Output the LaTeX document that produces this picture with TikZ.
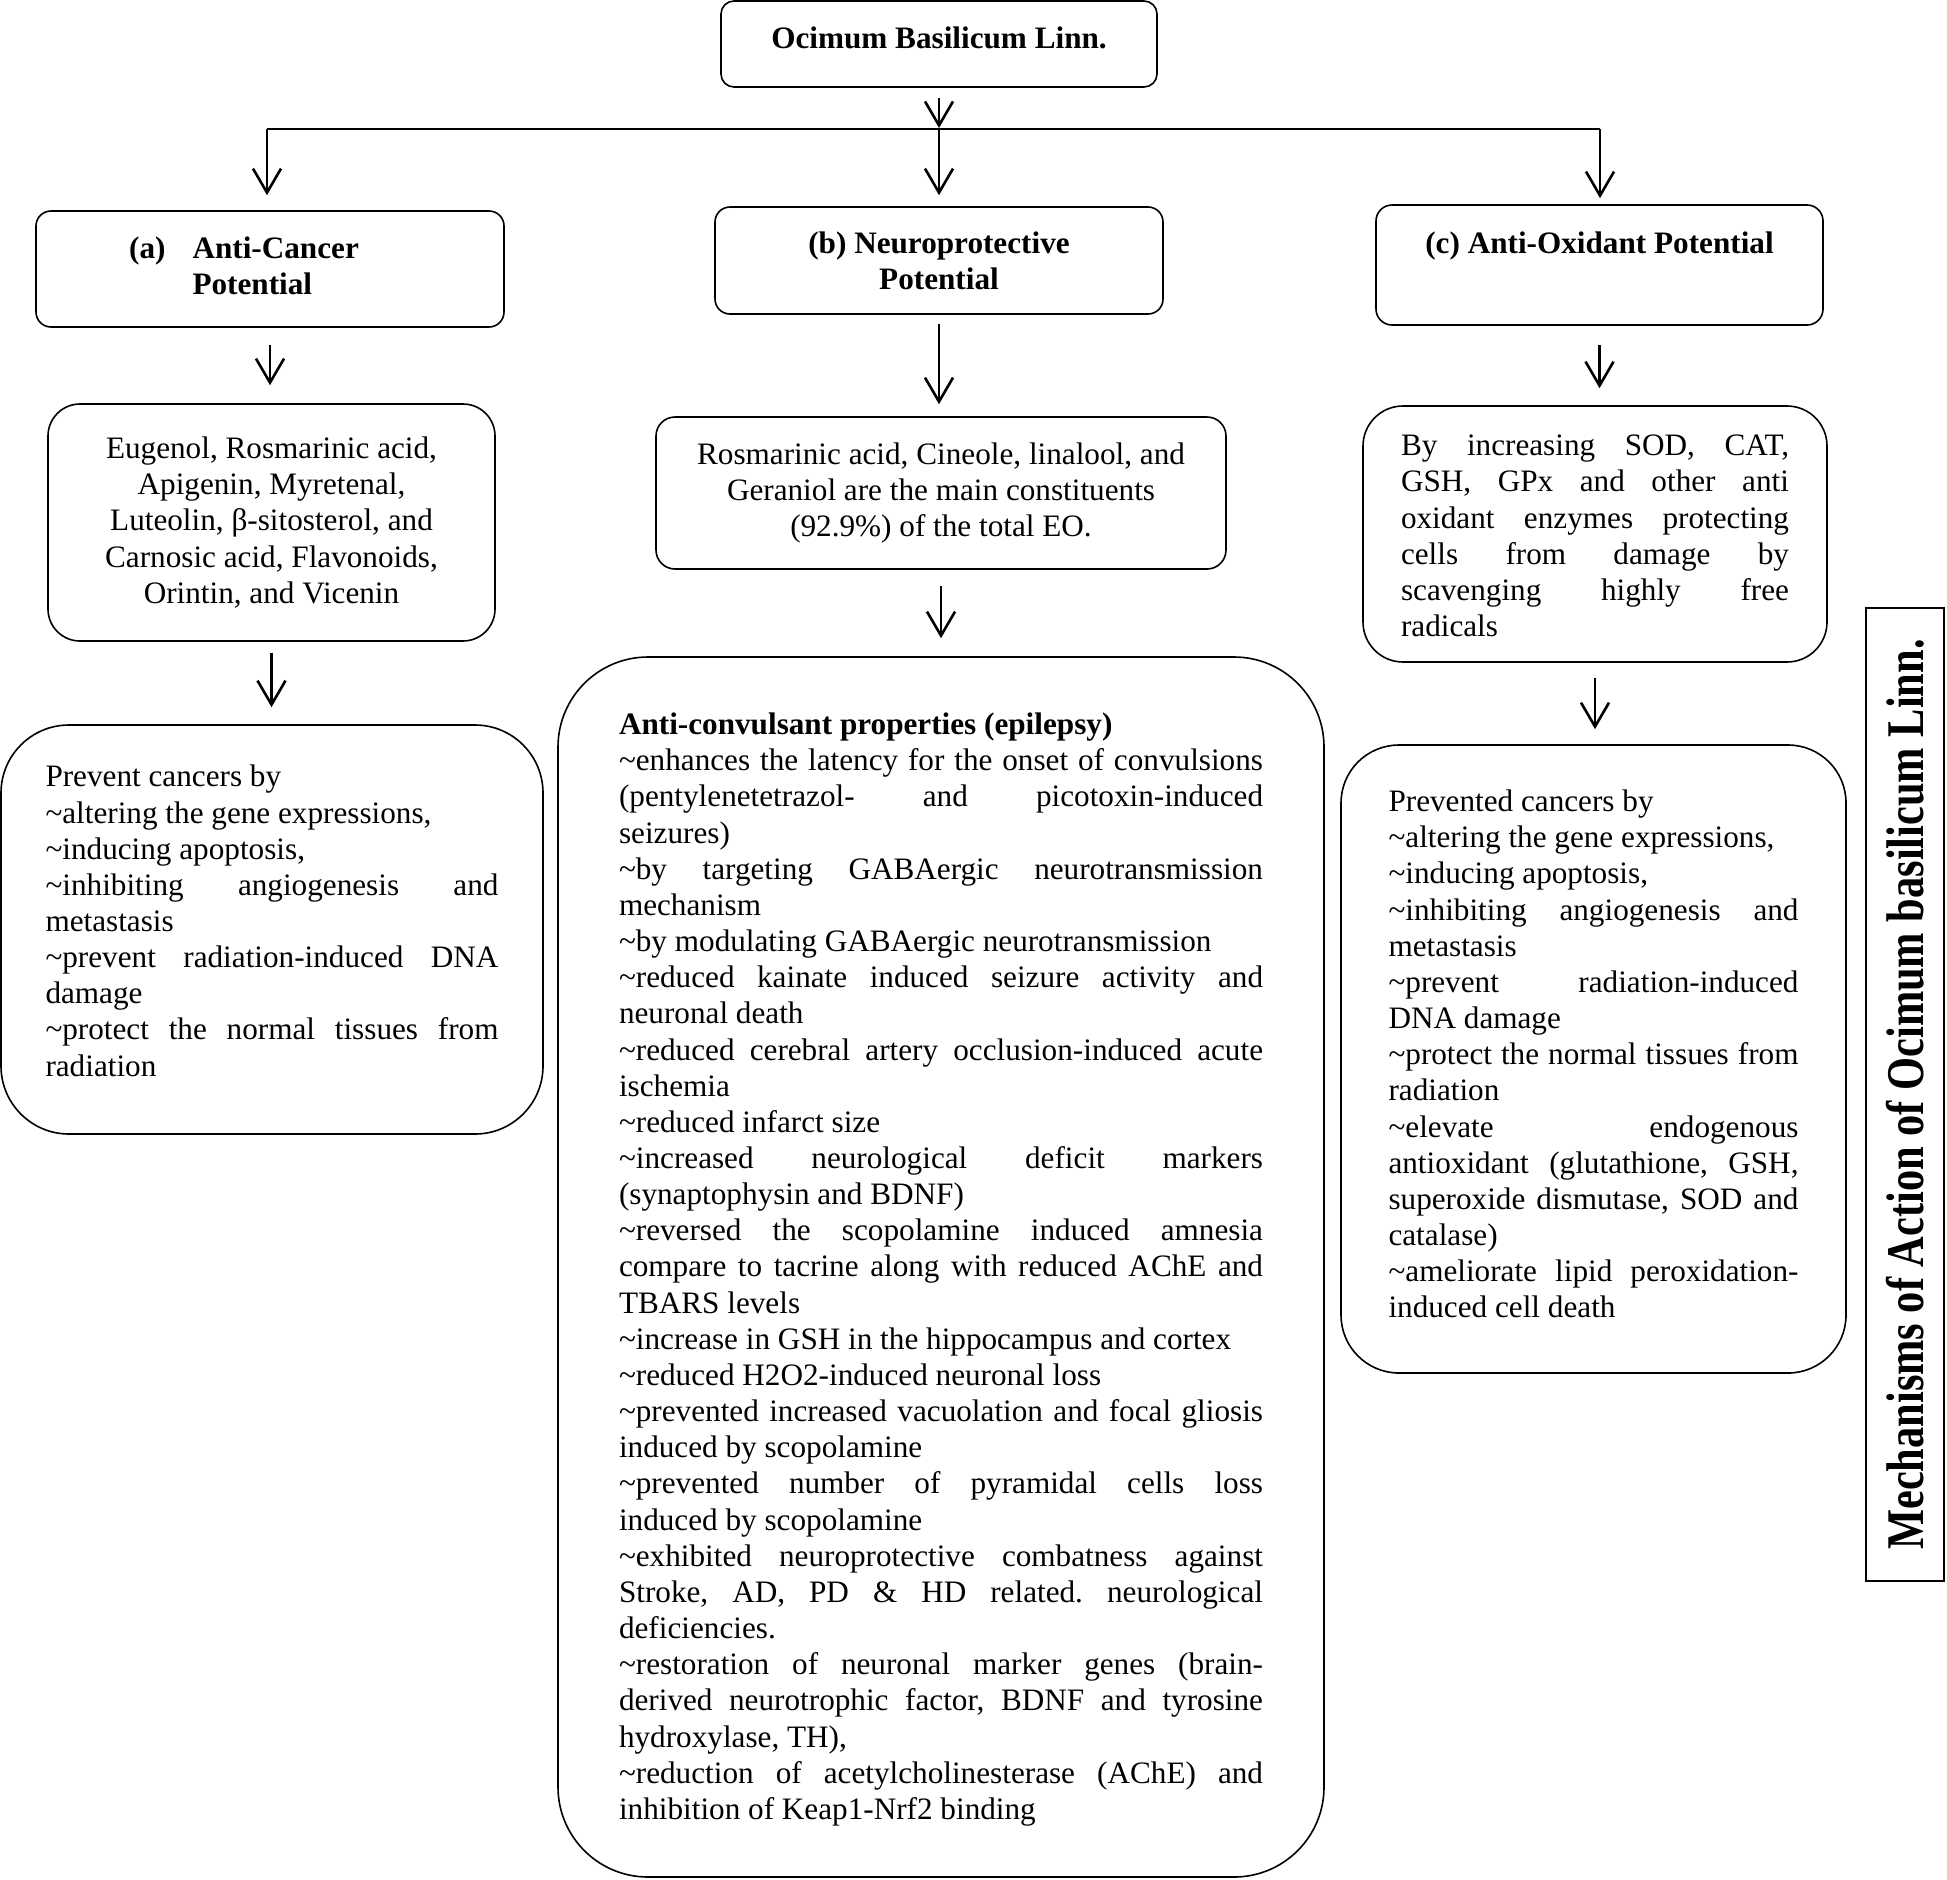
\documentclass[tikz,border=0pt]{standalone}
\usepackage{fontspec}
\setmainfont{Liberation Serif}
\newfontfamily\labelfont[FakeStretch=0.8]{Liberation Serif}
\usetikzlibrary{arrows.meta}
\frenchspacing
\newcommand\tildech{\textasciitilde}
\newcommand\jline[1]{\makebox[\linewidth][s]{#1}}
\newcommand\nline[1]{\makebox[\linewidth][l]{#1}}
\begin{document}
\begin{tikzpicture}[x=0.5pt,y=-0.5pt,
  every node/.style={font=\fontsize{15.6pt}{18.08pt}\selectfont},
  box/.style={draw, line width=0.8pt, inner sep=0pt, align=center},
  arr/.style={line width=1.3pt, -{Straight Barb[length=12pt,width=14pt]}},
  bus/.style={line width=1.3pt}
]
\useasboundingbox (0,0) rectangle (1947,1879);

% top
\node[box, rounded corners=6.5pt, minimum width=218pt, minimum height=43pt] (top) at (939,44)
  {\raisebox{3pt}[\height][\depth]{\bfseries Ocimum Basilicum Linn.}};

% level 1
\node[box, rounded corners=7.5pt, minimum width=234pt, minimum height=58pt] (A) at (270,269)
  {\bfseries\begin{tabular}{@{}l@{\hspace{13.5pt}}l@{}}(a)&Anti-Cancer\\&Potential\end{tabular}\hspace{26pt}};
\node[box, rounded corners=7.5pt, minimum width=224pt, minimum height=53.5pt] (B) at (939,260.5)
  {\bfseries (b) Neuroprotective\\ \bfseries Potential};
\node[box, rounded corners=8pt, minimum width=223.5pt, minimum height=60pt] (C) at (1599.5,265)
  {\raisebox{9.6pt}[\height][\depth]{\bfseries (c) Anti-Oxidant Potential}};

% level 2
\node[box, rounded corners=16pt, minimum width=223.5pt, minimum height=118.5pt] (A2) at (271.5,522.5)
  {Eugenol, Rosmarinic acid,\\ Apigenin, Myretenal,\\ Luteolin, β-sitosterol, and\\ Carnosic acid, Flavonoids,\\ Orintin, and Vicenin};
\node[box, rounded corners=9.5pt, minimum width=285pt, minimum height=76pt] (B2) at (941,493)
  {Rosmarinic acid, Cineole, linalool, and\\ Geraniol are the main constituents\\ (92.9\%) of the total EO.};
\node[box, rounded corners=20pt, minimum width=232pt, minimum height=128pt] (C2) at (1595,534)
  {\begin{minipage}{194pt}
  \vspace{2pt}
  \jline{By increasing SOD, CAT,}\\
  \jline{GSH, GPx and other anti}\\
  \jline{oxidant enzymes protecting}\\
  \jline{cells from damage by}\\
  \jline{scavenging highly free}\\
  \nline{radicals}
  \end{minipage}};

% level 3
\node[box, rounded corners=34pt, minimum width=271pt, minimum height=204.5pt] (A3) at (272,929.5)
  {\begin{minipage}{226.5pt}
  \nline{Prevent cancers by}\\
  \nline{\tildech altering the gene expressions,}\\
  \nline{\tildech inducing apoptosis,}\\
  \jline{\tildech inhibiting angiogenesis and}\\
  \nline{metastasis}\\
  \jline{\tildech prevent radiation-induced DNA}\\
  \nline{damage}\\
  \jline{\tildech protect the normal tissues from}\\
  \nline{radiation}\par\vspace{8.7pt}
  \end{minipage}};
\node[box, rounded corners=45pt, minimum width=383pt, minimum height=610pt] (B3) at (941,1267)
  {\begin{minipage}{322pt}
  \vspace{2.5pt}
  \nline{\bfseries Anti-convulsant properties (epilepsy)}\\
  \jline{\tildech enhances the latency for the onset of convulsions}\\
  \jline{(pentylenetetrazol- and picotoxin-induced}\\
  \nline{seizures)}\\
  \jline{\tildech by targeting GABAergic neurotransmission}\\
  \nline{mechanism}\\
  \nline{\tildech by modulating GABAergic neurotransmission}\\
  \jline{\tildech reduced kainate induced seizure activity and}\\
  \nline{neuronal death}\\
  \jline{\tildech reduced cerebral artery occlusion-induced acute}\\
  \nline{ischemia}\\
  \nline{\tildech reduced infarct size}\\
  \jline{\tildech increased neurological deficit markers}\\
  \nline{(synaptophysin and BDNF)}\\
  \jline{\tildech reversed the scopolamine induced amnesia}\\
  \jline{compare to tacrine along with reduced AChE and}\\
  \nline{TBARS levels}\\
  \nline{\tildech increase in GSH in the hippocampus and cortex}\\
  \nline{\tildech reduced H2O2-induced neuronal loss}\\
  \jline{\tildech prevented increased vacuolation and focal gliosis}\\
  \nline{induced by scopolamine}\\
  \jline{\tildech prevented number of pyramidal cells loss}\\
  \nline{induced by scopolamine}\\
  \jline{\tildech exhibited neuroprotective combatness against}\\
  \jline{Stroke, AD, PD \& HD related. neurological}\\
  \nline{deficiencies.}\\
  \jline{\tildech restoration of neuronal marker genes (brain-}\\
  \jline{derived neurotrophic factor, BDNF and tyrosine}\\
  \nline{hydroxylase, TH),}\\
  \jline{\tildech reduction of acetylcholinesterase (AChE) and}\\
  \nline{inhibition of Keap1-Nrf2 binding}
  \end{minipage}};
\node[box, rounded corners=29pt, minimum width=252.5pt, minimum height=314pt] (C3) at (1593.5,1059)
  {\begin{minipage}{205pt}
  \nline{Prevented cancers by}\\
  \nline{\tildech altering the gene expressions,}\\
  \nline{\tildech inducing apoptosis,}\\
  \jline{\tildech inhibiting angiogenesis and}\\
  \nline{metastasis}\\
  \jline{\tildech prevent radiation-induced}\\
  \nline{DNA damage}\\
  \jline{\tildech protect the normal tissues from}\\
  \nline{radiation}\\
  \jline{\tildech elevate endogenous}\\
  \jline{antioxidant (glutathione, GSH,}\\
  \jline{superoxide dismutase, SOD and}\\
  \nline{catalase)}\\
  \jline{\tildech ameliorate lipid peroxidation-}\\
  \nline{induced cell death}\par\vspace{5pt}
  \end{minipage}};

% side label
\node[draw, line width=1.1pt, rotate=90, inner sep=0pt, minimum width=486.5pt, minimum height=39pt,
  font=\labelfont\bfseries\fontsize{26.5pt}{30pt}\selectfont] (lbl) at (1905,1094.5)
  {Mechanisms of Action of Ocimum basilicum Linn.};

% connectors
\coordinate (busL) at (267,129);
\coordinate (busR) at (1600,129);
\draw[bus] (busL) -- (busR);
\draw[arr, shorten <=5pt, shorten >=0.5pt] (top.south) -- (top.south |- busL);
\draw[arr, shorten >=7.5pt] (busL) -- (busL |- A.north);
\draw[arr, shorten >=5.5pt] (top.south |- busL) -- (B.north);
\draw[arr, shorten >=3pt] (busR) -- (busR |- C.north);
\draw[arr, shorten <=8.5pt, shorten >=9pt] (A.south) -- (A.south |- A2.north);
\draw[arr, shorten <=4.5pt, shorten >=6pt] (B.south) -- (B.south |- B2.north);
\draw[arr, shorten <=9.5pt, shorten >=8.5pt] (C.south) -- (C.south |- C2.north);
\draw[arr, shorten <=5.5pt, shorten >=8.5pt] (A2.south) -- (A2.south |- A3.north);
\draw[arr, shorten <=8pt, shorten >=9pt] (B2.south) -- (B2.south |- B3.north);
\draw[arr, shorten <=7.5pt, shorten >=7.5pt] (C2.south) -- (C2.south |- C3.north);
\end{tikzpicture}
\end{document}
